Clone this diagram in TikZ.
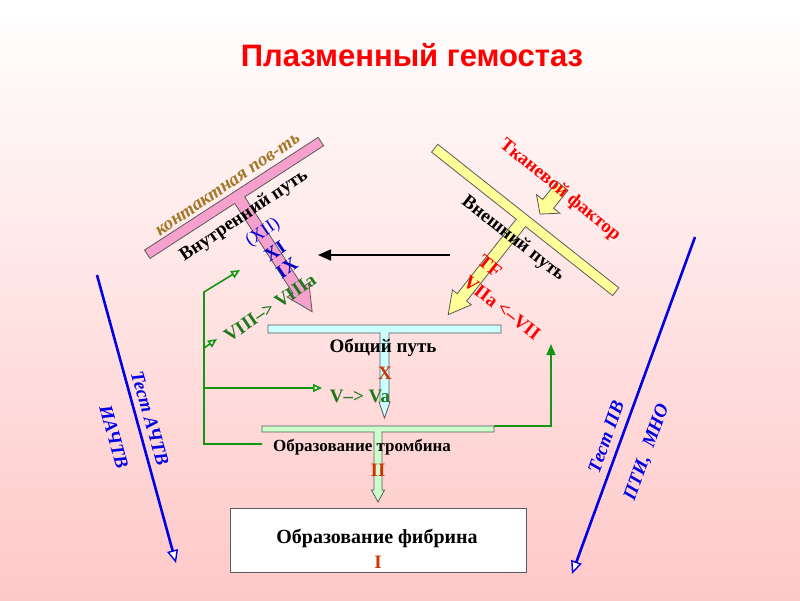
\documentclass[tikz,border=0pt]{standalone}
\usepackage{fontspec}
\setmainfont{Liberation Serif}
\newfontfamily\titlefont{Liberation Sans}
\usetikzlibrary{arrows.meta,calc}
\definecolor{bgpink}{RGB}{255,200,200}
\definecolor{pinkfill}{RGB}{245,160,205}
\definecolor{yelfill}{RGB}{255,255,153}
\definecolor{cyanfill}{RGB}{204,255,255}
\definecolor{grfill}{RGB}{204,255,204}
\definecolor{browntxt}{RGB}{160,120,40}
\definecolor{darkred}{RGB}{204,51,0}
\definecolor{gline}{RGB}{20,150,20}
\definecolor{gtxt}{RGB}{30,120,30}
\definecolor{bline}{RGB}{0,0,230}
\definecolor{dblue}{RGB}{0,0,200}
\definecolor{edge}{RGB}{90,90,90}
\tikzset{
  tbar/.style={draw=edge,line width=0.8pt,line join=miter},
  lbl/.style={font=\bfseries\fontsize{19}{19}\selectfont,inner sep=0pt},
  glink/.style={draw=gline,line width=1.6pt,-{Triangle[open,length=9pt,width=8pt,fill=white]}},
  bluearrow/.style={draw=bline,line width=2.6pt,-{Triangle[open,length=13pt,width=11pt,fill=white,line width=1.4pt]}},
  tilt/.style={font=\bfseries\itshape\fontsize{19}{19}\selectfont,text=bline,inner sep=0pt}
}
\begin{document}
\begin{tikzpicture}[x=1pt,y=-1pt]
\useasboundingbox (0,0) rectangle (800,600);
\shade[top color=white,bottom color=bgpink] (0,0) rectangle (800,600);

% title
\node[font=\titlefont\bfseries\fontsize{31}{31}\selectfont,text=red] (title) at (412,55) {Плазменный гемостаз};

% pink T (intrinsic pathway)
\begin{scope}[shift={(237,196)},rotate=-57]
\filldraw[tbar,fill=pinkfill] (-5,-100) -- (-5,107) -- (5,107) -- (5,6) -- (112,6) -- (112,13) -- (138,0) -- (112,-13) -- (112,-6) -- (5,-6) -- (5,-100) -- cycle;
\end{scope}

% yellow T (extrinsic pathway)
\begin{scope}[shift={(524,219)},rotate=-128.4]
\filldraw[tbar,fill=yelfill] (-5,-117) -- (-5,114) -- (5,114) -- (5,6) -- (100,6) -- (100,12) -- (122,0) -- (100,-12) -- (100,-6) -- (5,-6) -- (5,-117) -- cycle;
\end{scope}
% small tissue factor arrow
\begin{scope}[shift={(540,214)},rotate=-128.7]
\filldraw[tbar,fill=yelfill] (0,0) -- (-13,15) -- (-13,7) -- (-36,7) -- (-36,-7) -- (-13,-7) -- (-13,-15) -- cycle;
\end{scope}

% cyan T (common pathway)
\filldraw[tbar,fill=cyanfill] (268,325) -- (501,325) -- (501,333) -- (389,333) -- (389,402) -- (390,402) -- (384.5,418) -- (379,402) -- (380,402) -- (380,333) -- (268,333) -- cycle;

% green T (thrombin)
\filldraw[tbar,fill=grfill] (262,426) -- (494,426) -- (494,432) -- (382,432) -- (382,490) -- (384.5,490) -- (378,502) -- (371.5,490) -- (374,490) -- (374,432) -- (262,432) -- cycle;

% fibrin box
\node[draw=edge,line width=0.8pt,fill=white,minimum width=296pt,minimum height=64pt,inner sep=0pt] (fib) at (378,540) {};
\node[font=\bfseries\fontsize{20}{20}\selectfont,inner sep=0pt] (fibtxt) at (377,538) {Образование фибрина};
\node[lbl,text=darkred] (one) at (378,562) {I};

% black arrow
\coordinate (ba1) at (450,255);
\coordinate (ba2) at (318,255);
\draw[line width=1.6pt,-{Triangle[length=13pt,width=11pt]}] (ba1) -- (ba2);

% green links
\coordinate (gbot) at (262,444);
\coordinate (gcorn) at (204,444);
\coordinate (gtop) at (204,292);
\coordinate (gtip) at (240,270);
\coordinate (gmid) at (204,348);
\coordinate (gmidtip) at (217,339);
\coordinate (gv) at (204,388);
\coordinate (gvtip) at (322,388);
\draw[glink,line join=miter] (gbot) -- (gcorn) -- (gtop) -- (gtip);
\draw[glink] (gmid) -- (gmidtip);
\draw[glink] (gv) -- (gvtip);
\coordinate (gr1) at (494,426);
\coordinate (gr2) at (551,426);
\coordinate (gr3) at (551,344);
\draw[draw=gline,line width=1.6pt,line join=miter,-{Triangle[length=11pt,width=9pt]}] (gr1) -- (gr2) -- (gr3);

% blue test arrows
\coordinate (bl1) at (97,275);
\coordinate (bl2) at (176,563);
\draw[bluearrow] (bl1) -- (bl2);
\coordinate (br1) at (695,237);
\coordinate (br2) at (572,574);
\draw[bluearrow] (br1) -- (br2);

% labels intrinsic
\node[font=\bfseries\itshape\fontsize{19}{19}\selectfont,text=browntxt,rotate=34,inner sep=0pt] (contact) at (228,185) {контактная пов-ть};
\node[lbl,rotate=34] (intr) at (244,216) {Внутренний путь};
\node[font=\fontsize{18}{18}\selectfont,text=bline,rotate=34,inner sep=0pt] (f12) at (263,233) {(XII)};
\node[lbl,text=dblue,rotate=34] (f11) at (275,251) {XI};
\node[lbl,text=dblue,rotate=34] (f9) at (287,268) {IX};
\node[lbl,text=gtxt,rotate=34] (f8) at (270,308) {VIII--> VIIIa};

% labels extrinsic
\node[lbl,text=red,rotate=-39] (tf) at (560,190) {Тканевой фактор};
\node[lbl,rotate=-38] (extr) at (513,239) {Внешний путь};
\node[lbl,text=red,rotate=-38] (tfl) at (490,266) {TF};
\node[lbl,text=red,rotate=-38] (f7) at (502,308) {VIIa <--VII};

% common
\node[lbl] (common) at (383,348) {Общий путь};
\node[lbl,text=darkred] (ten) at (385,373) {X};
\node[lbl,text=gtxt] (f5) at (360,396) {V--> Va};
\node[font=\bfseries\fontsize{17}{17}\selectfont,inner sep=0pt] (thromb) at (362,447) {Образование тромбина};
\node[lbl,text=darkred] (two) at (378,470) {II};

% test labels
\node[tilt,rotate=-74] (achtv) at (150,418) {Тест АЧТВ};
\node[tilt,rotate=-74] (iachtv) at (114,437) {ИАЧТВ};
\node[tilt,rotate=70] (pv) at (606,437) {Тест ПВ};
\node[tilt,rotate=70] (pti) at (647,452) {ПТИ,~ МНО};
\end{tikzpicture}
\end{document}
